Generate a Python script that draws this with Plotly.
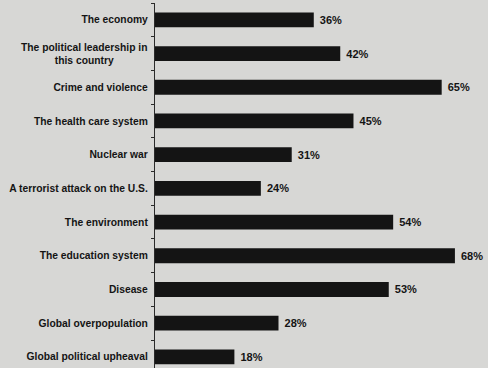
import plotly.graph_objects as go

# Survey categories (top to bottom) and share of respondents, in percent
categories = [
    "The economy",
    "The political leadership in<br>this country",
    "Crime and violence",
    "The health care system",
    "Nuclear war",
    "A terrorist attack on the U.S.",
    "The environment",
    "The education system",
    "Disease",
    "Global overpopulation",
    "Global political upheaval",
]
values = [36, 42, 65, 45, 31, 24, 54, 68, 53, 28, 18]

positions = list(range(len(categories)))
between = [p - 0.5 for p in positions]

ink = "#141414"
paper = "#d7d7d5"
label_font = dict(family="Liberation Sans", size=10.3, color=ink)

fig = go.Figure(
    go.Bar(
        x=values,
        y=positions,
        orientation="h",
        width=0.44,
        marker=dict(color=ink, line=dict(width=0)),
        text=[f"{v}%" for v in values],
        texttemplate="\u00a0<b>%{text}</b>",
        textposition="outside",
        cliponaxis=False,
        textfont=dict(family="Liberation Sans", size=11, color=ink),
        hoverinfo="skip",
    )
)

# Single-line category names go on the axis; wrapped names are drawn as
# centred annotations so both lines share one centre.
ticktext = []
for pos, name in zip(positions, categories):
    if "<br>" in name:
        ticktext.append("")
        lines = name.split("<br>")
        fig.add_annotation(
            x=0, xref="paper", xanchor="right", xshift=-6,
            y=pos, yref="y", yanchor="middle",
            text="<br>".join(f"<b>{ln}</b>" for ln in lines), align="center",
            showarrow=False, font=label_font,
        )
    else:
        ticktext.append(f"<b>{name}</b>")

fig.update_layout(
    width=488,
    height=368,
    margin=dict(l=155, r=0, t=3, b=0),
    paper_bgcolor=paper,
    plot_bgcolor=paper,
    showlegend=False,
    font=dict(family="Liberation Sans", size=10, color=ink),
    xaxis=dict(
        range=[0, 75.5],
        visible=False,
        fixedrange=True,
    ),
    yaxis=dict(
        range=[10.33, -0.5],
        tickmode="array",
        tickvals=positions,
        ticktext=ticktext,
        ticks="",
        showgrid=False,
        zeroline=False,
        showline=True,
        linecolor="#2a2a2a",
        linewidth=1.2,
        ticklabelstandoff=4,
        tickfont=label_font,
        minor=dict(
            tickmode="array",
            tickvals=between,
            ticks="outside",
            ticklen=3,
            tickwidth=1,
            tickcolor="#2a2a2a",
            showgrid=False,
        ),
    ),
)

fig.write_html("out.html")
